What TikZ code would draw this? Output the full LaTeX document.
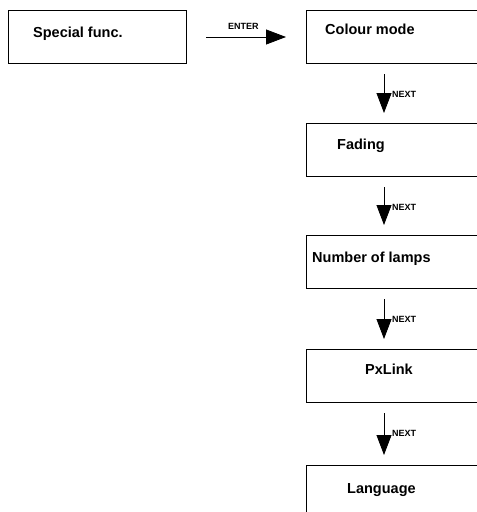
\documentclass[tikz,border=0pt]{standalone}
\usepackage{fontspec}
\setmainfont{Liberation Sans}
\usetikzlibrary{arrows.meta,calc}
\begin{document}
\begin{tikzpicture}[x=1pt,y=-1pt,
  box/.style={draw, line width=1pt, minimum height=53pt, inner sep=0pt, anchor=north west},
  boxtext/.style={anchor=base west, inner sep=0pt, font=\bfseries\fontsize{14.5}{17}\selectfont},
  keytext/.style={anchor=base west, inner sep=0pt, font=\bfseries\fontsize{9}{11}\selectfont},
  flow/.style={line width=0.8pt, -{Triangle[length=20pt,width=15pt]}}]
\useasboundingbox (0,0) rectangle (477,512);
\clip (0,0) rectangle (477,512);

% menu boxes
\node[box, minimum width=178pt] (sf) at (8,10) {};
\node[box, minimum width=200pt] (cm) at (306,10) {};
\node[box, minimum width=200pt] (fd) at (306,123) {};
\node[box, minimum width=200pt] (nl) at (306,235) {};
\node[box, minimum width=200pt] (px) at (306,349) {};
\node[box, minimum width=200pt] (lg) at (306,465) {};

% box captions
\node[boxtext] (sft) at ($(sf.north west)+(25,27)$) {Special func.};
\node[boxtext] (cmt) at ($(cm.north west)+(19,24)$) {Colour mode};
\node[boxtext] (fdt) at ($(fd.north west)+(31,26)$) {Fading};
\node[boxtext] (nlt) at ($(nl.north west)+(6,27)$) {Number of lamps};
\node[boxtext] (pxt) at ($(px.north west)+(59,25)$) {PxLink};
\node[boxtext] (lgt) at ($(lg.north west)+(41,28)$) {Language};

% ENTER step
\draw[flow] ([xshift=19pt]sf.east) -- ([xshift=-20pt]cm.west);
\node[keytext] (ent) at ($(sf.east)+(41,-8)$) {ENTER};

% NEXT steps
\draw[flow] ($(cm.south west)+(78,10)$) -- ($(fd.north west)+(78,-10)$);
\node[keytext] (n1) at ($(cm.south west)+(86,33)$) {NEXT};
\draw[flow] ($(fd.south west)+(78,10)$) -- ($(nl.north west)+(78,-10)$);
\node[keytext] (n2) at ($(fd.south west)+(86,33)$) {NEXT};
\draw[flow] ($(nl.south west)+(78,10)$) -- ($(px.north west)+(78,-10)$);
\node[keytext] (n3) at ($(nl.south west)+(86,33)$) {NEXT};
\draw[flow] ($(px.south west)+(78,10)$) -- ($(lg.north west)+(78,-10)$);
\node[keytext] (n4) at ($(px.south west)+(86,33)$) {NEXT};
\end{tikzpicture}
\end{document}
